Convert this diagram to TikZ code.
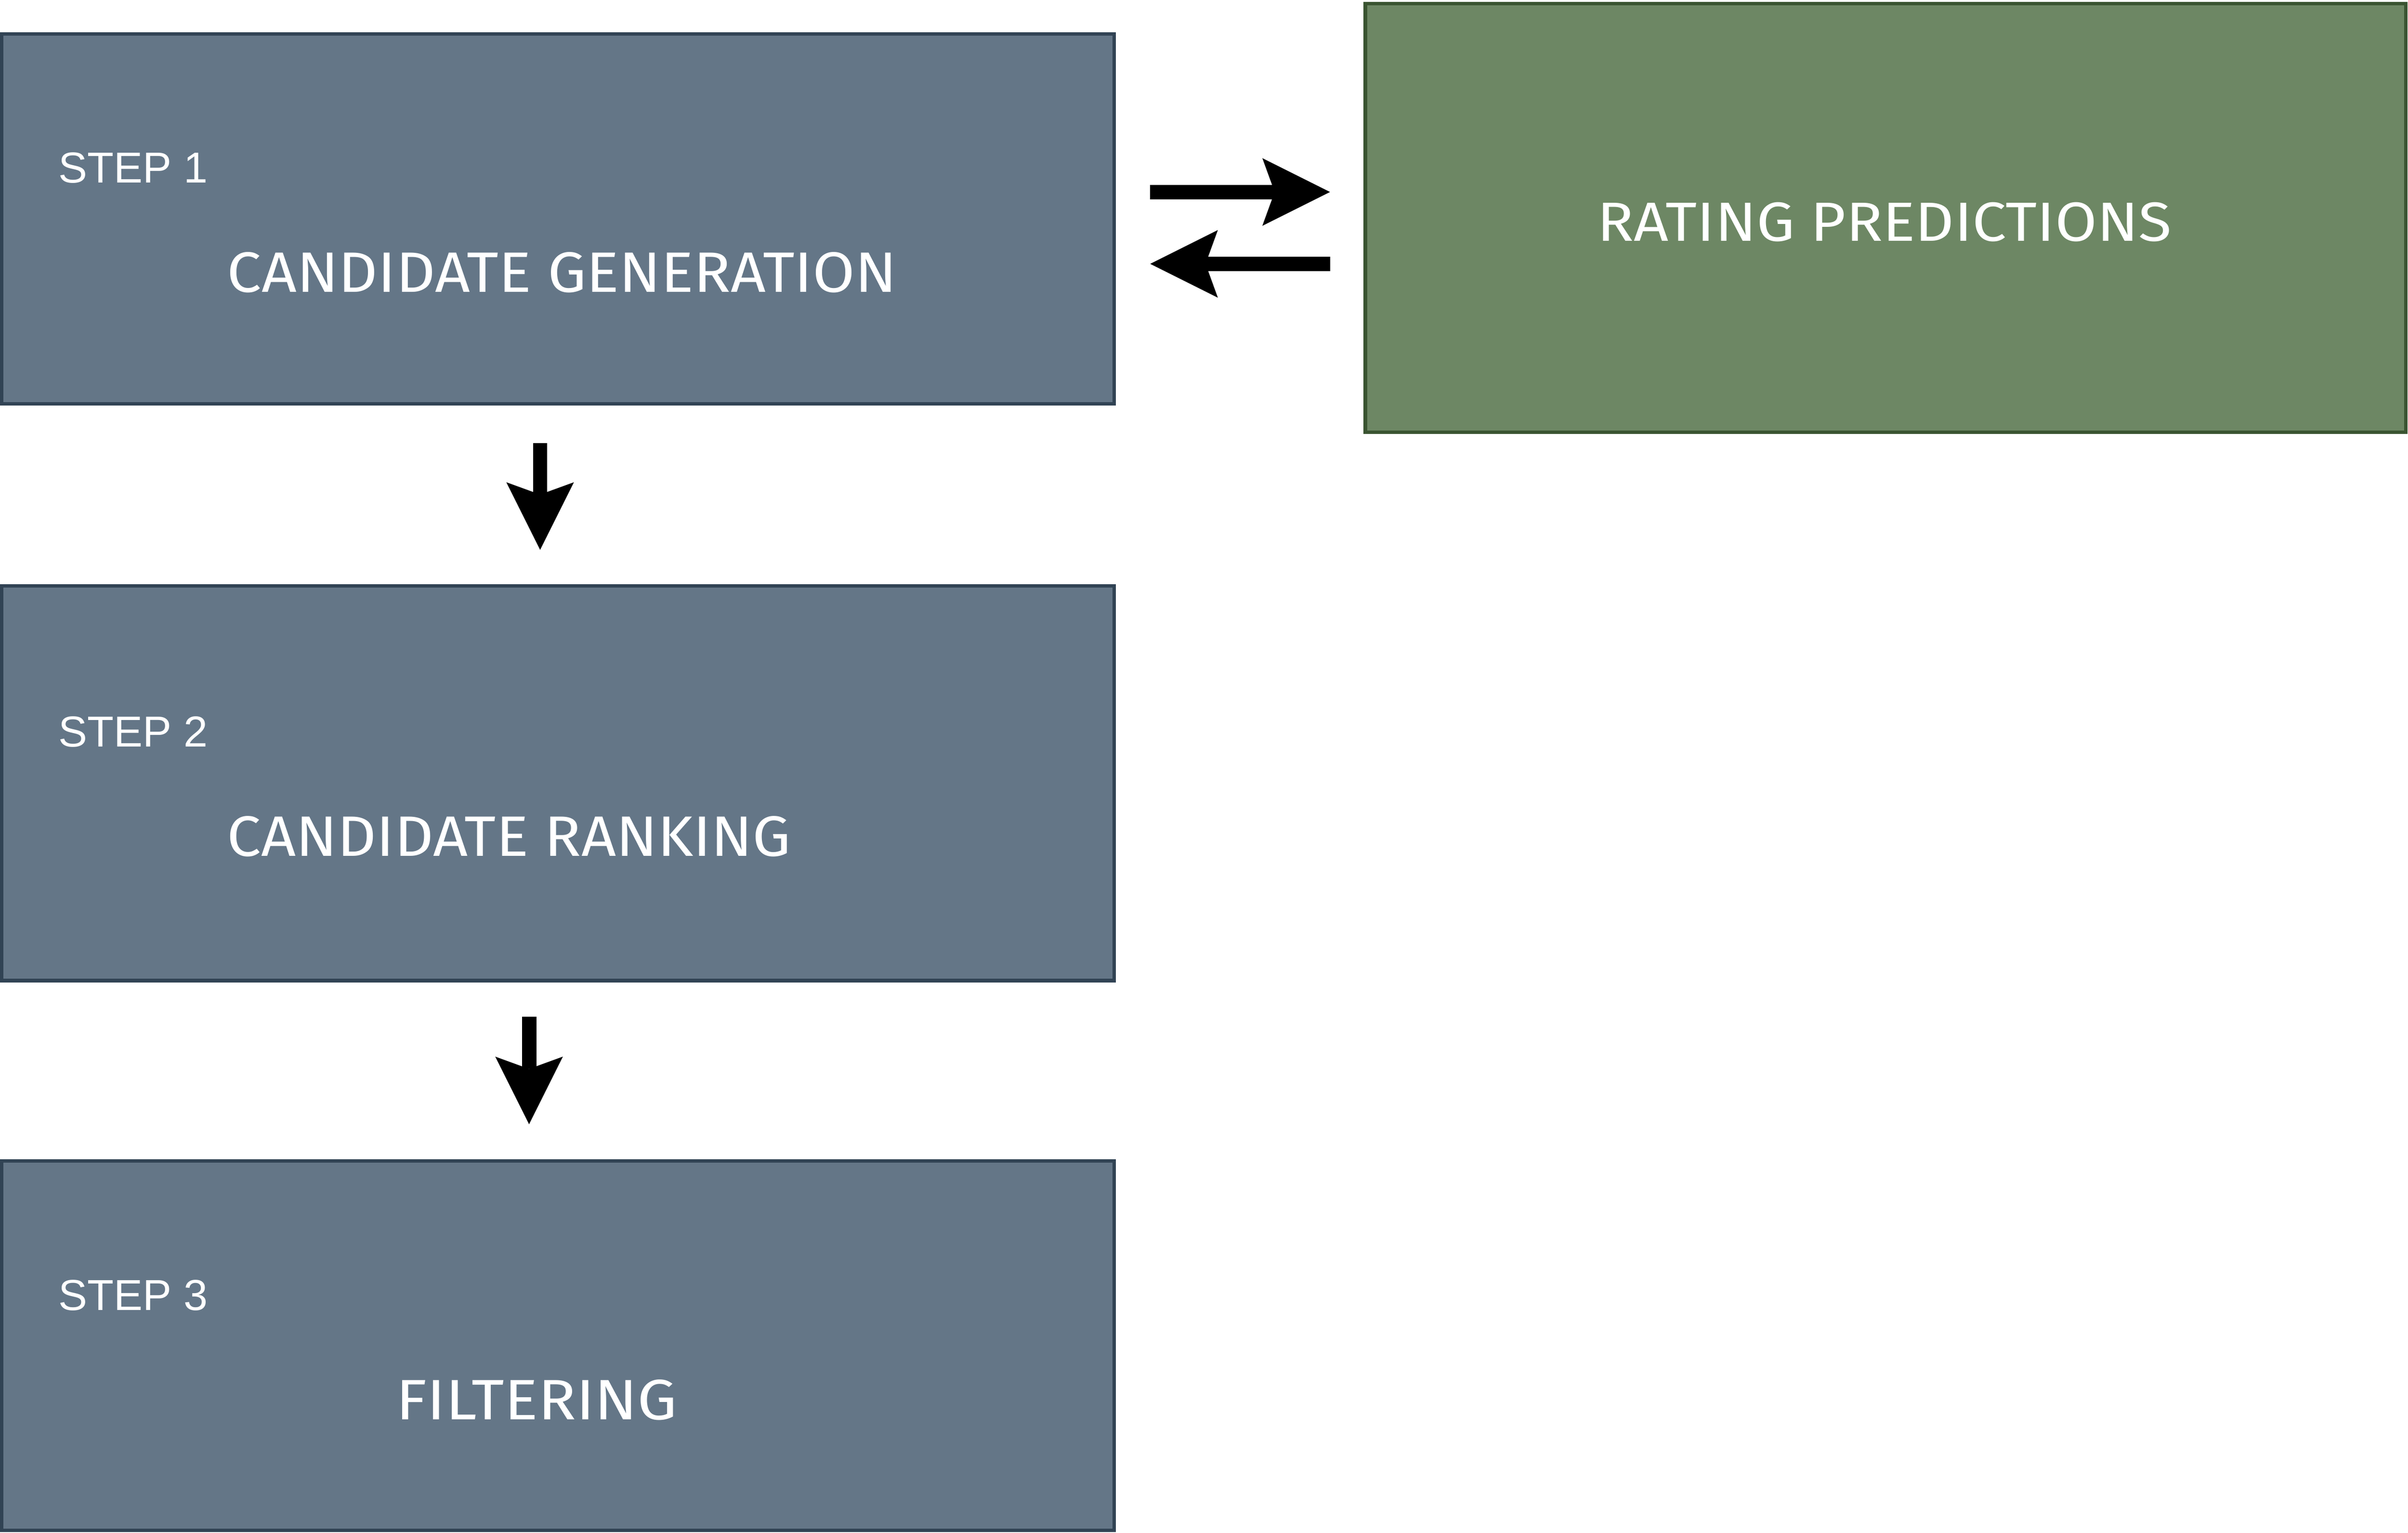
\documentclass[tikz,border=0pt]{standalone}
\usepackage{fontspec}
\setmainfont{Liberation Sans}
\newfontfamily\comicf{Fira Sans}
\usetikzlibrary{arrows.meta}
\definecolor{boxfill}{HTML}{647687}
\definecolor{boxline}{HTML}{314354}
\definecolor{greenfill}{HTML}{6D8764}
\definecolor{greenline}{HTML}{3A5431}
\newcommand{\handtxt}[3]{\resizebox{#1}{#2}{\comicf #3}}
\tikzset{
  stepbox/.style={rectangle, draw=boxline, fill=boxfill, line width=1.15pt, inner sep=0pt, outer sep=0pt},
  greenbox/.style={rectangle, draw=greenline, fill=greenfill, line width=1.15pt, inner sep=0pt, outer sep=0pt},
  steplabel/.style={anchor=base west, inner sep=0pt, text=white, font=\fontsize{14.1pt}{16pt}\selectfont},
  titlelabel/.style={anchor=center, inner sep=0pt, text=white},
  bigarrow/.style={line width=4.7pt, -{Stealth[length=22pt, width=22pt, inset=4pt, line width=0pt]}}
}
\begin{document}
\begin{tikzpicture}[x=0.5pt, y=-0.5pt]
\useasboundingbox (0,0) rectangle (1568,998);
% boxes
\node[stepbox, minimum width=362.15pt, minimum height=120.5pt] (b1) at (363.35,142.5) {};
\node[stepbox, minimum width=362.15pt, minimum height=128.5pt] (b2) at (363.35,510) {};
\node[stepbox, minimum width=362.15pt, minimum height=120.25pt] (b3) at (363.35,876.25) {};
\node[greenbox, minimum width=338.75pt, minimum height=139.6pt] (g) at (1227.75,141.9) {};
% labels
\node[steplabel] (s1) at (37.8,119.1) {STEP 1};
\node[steplabel] (s2) at (37.8,486.1) {STEP 2};
\node[steplabel] (s3) at (37.8,853.1) {STEP 3};
\node[titlelabel] (t1) at (366,177.5) {\handtxt{218pt}{13pt}{CANDIDATE GENERATION}};
\node[titlelabel] (t2) at (331.5,544.5) {\handtxt{183.5pt}{13pt}{CANDIDATE RANKING}};
\node[titlelabel] (t3) at (349.5,911.5) {\handtxt{91.5pt}{13pt}{FILTERING}};
\node[titlelabel] (t4) at (1227,144.7) {\handtxt{187pt}{12.6pt}{RATING PREDICTIONS}};
% connector end points
\coordinate (r1) at (749,125);
\coordinate (r2) at (866,125);
\coordinate (l1) at (866,171.8);
\coordinate (l2) at (749,171.8);
\coordinate (d1a) at (351.7,288.6);
\coordinate (d1b) at (351.7,358);
\coordinate (d2a) at (344.5,662);
\coordinate (d2b) at (344.5,732);
% arrows
\draw[bigarrow] (r1) -- (r2);
\draw[bigarrow] (l1) -- (l2);
\draw[bigarrow] (d1a) -- (d1b);
\draw[bigarrow] (d2a) -- (d2b);
\end{tikzpicture}
\end{document}
